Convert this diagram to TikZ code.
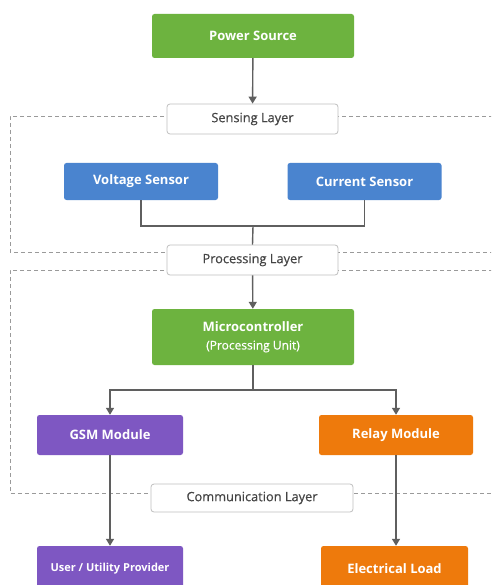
\documentclass[tikz,border=0pt]{standalone}
\usepackage{fontspec}
\setmainfont{Open Sans}
\newfontfamily\layerfont[FakeBold=0.5]{Open Sans}
\usepackage{tikz}
\usetikzlibrary{arrows.meta}

\definecolor{pgreen}{HTML}{6DB33F}
\definecolor{pblue}{HTML}{4A84CF}
\definecolor{ppurple}{HTML}{7E57C2}
\definecolor{porange}{HTML}{EE7A0C}
\definecolor{plabel}{HTML}{444444}
\definecolor{pline}{HTML}{5F5F5F}
\definecolor{pdash}{HTML}{9A9A9A}

\tikzset{
  block/.style={rounded corners=2.5pt, text=white, font=\bfseries\fontsize{13}{15}\selectfont,
    inner sep=0pt, align=center},
  layerbox/.style={draw=black!25, fill=white, rounded corners=3pt, text=plabel,
    font=\layerfont\fontsize{12.8}{15}\selectfont, inner sep=0pt, line width=0.8pt},
  layerline/.style={draw=pdash, dash pattern=on 4pt off 3pt, line width=0.8pt},
  wire/.style={draw=pline, line width=1.4pt},
  arr/.style={wire, -{Triangle[length=7pt,width=8pt]}},
}

\begin{document}
\begin{tikzpicture}[x=1pt,y=-1pt]
		\useasboundingbox (0,0) rectangle (491,585);
		\clip (0,0) rectangle (491,585);
		\fill[white] (0,0) rectangle (491,585);
		% layer frames
		\draw[layerline] (500,116) -- (10,116) -- (10,252) -- (500,252);
		\draw[layerline] (500,270) -- (10,270) -- (10,493) -- (500,493);
		% blocks
		\node[block, fill=pgreen, minimum width=202pt, minimum height=44pt] (power) at (253,36) {Power Source};
		\node[layerbox, minimum width=171pt, minimum height=30pt] (sensing) at (252.5,119) {Sensing Layer};
		\node[block, fill=pblue, minimum width=154pt, minimum height=37pt] (volt) at (141,181.5) {Voltage Sensor};
		\node[block, fill=pblue, minimum width=154pt, minimum height=37pt] (curr) at (364.5,181.5) {Current Sensor};
		\node[layerbox, minimum width=171pt, minimum height=30pt] (proc) at (252.5,260) {Processing Layer};
		\node[block, fill=pgreen, minimum width=202pt, minimum height=56pt] (micro) at (253,337)
			{Microcontroller\\[3pt]{\layerfont\mdseries\fontsize{12}{14}\selectfont (Processing Unit)}};
		\node[block, fill=ppurple, minimum width=146pt, minimum height=40pt] (gsm) at (110,435) {GSM Module};
		\node[block, fill=porange, minimum width=154pt, minimum height=40pt] (relay) at (396,435) {Relay Module};
		\node[layerbox, minimum width=202pt, minimum height=28pt] (comm) at (252,498) {Communication Layer};
		\node[block, fill=ppurple, minimum width=146pt, minimum height=46pt, font=\bfseries\fontsize{11}{13}\selectfont] (user) at (110,569) {User / Utility Provider};
		\node[block, fill=porange, minimum width=147pt, minimum height=46pt] (load) at (394.5,569) {Electrical Load};
		% connectors
		\coordinate (join) at (253,226);
		\coordinate (split) at (253,390);
		\draw[arr] (power) -- (sensing);
		\draw[wire] (volt.south) |- (join) -| (curr.south);
		\draw[wire] (join) -- (proc.north);
		\draw[arr] (proc) -- (micro);
		\draw[wire] (micro.south) -- (split);
		\draw[arr] (split) -| (gsm.north);
		\draw[arr] (split) -| (relay.north);
		\draw[arr] (gsm) -- (user);
		\draw[arr] (relay.south) -- (relay.south |- load.north);
\end{tikzpicture}
\end{document}
